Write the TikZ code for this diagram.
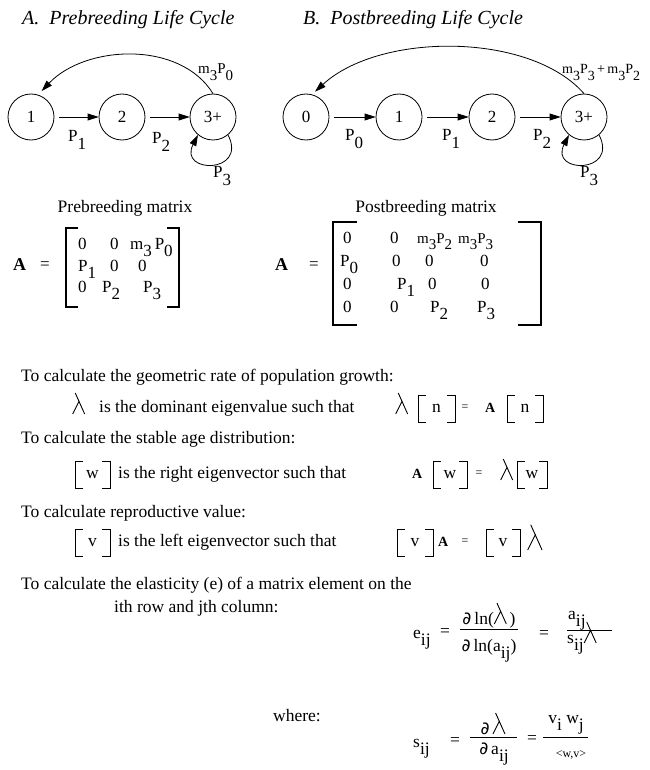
\documentclass[tikz,border=0pt]{standalone}
\usepackage{fontspec}
\setmainfont{Liberation Serif}
\newfontfamily\symf{DejaVu Sans}
\usetikzlibrary{arrows.meta}
\newcommand\lw[1]{\raisebox{-0.45em}{#1}}
\newcommand\mPx[2]{m\lw{#1}P\lw{#2}}
\newcommand\lam[1][1]{\tikz[baseline=0pt,x=#1pt,y=#1pt]{\draw[line width=0.9pt,line cap=butt] (0,0)--(6.6,13.2) (2.6,21)--(12,0);}}
\newcommand\pd{{\symf\char"2202}}
\newcommand\brk[4]{%
  \draw[sbr] ({#1+8},#3) -- (#1,#3) -- (#1,#4) -- ({#1+8},#4);
  \draw[sbr] ({#2-8},#3) -- (#2,#3) -- (#2,#4) -- ({#2-8},#4);}
\begin{document}
\begin{tikzpicture}[x=1pt,y=-1pt,
  txt/.style={font=\fontsize{17.5}{20}\selectfont, inner sep=0pt, anchor=base west},
  lab/.style={font=\fontsize{17}{20}\selectfont, inner sep=0pt, anchor=base west},
  mt/.style={font=\fontsize{17}{20}\selectfont, inner sep=0pt, anchor=base west},
  sm/.style={font=\fontsize{12}{14}\selectfont, inner sep=0pt, anchor=base},
  bA/.style={font=\fontsize{14}{16}\selectfont\bfseries, inner sep=0pt, anchor=base west},
  ttl/.style={font=\fontsize{20}{24}\selectfont\itshape, inner sep=0pt, anchor=base west},
  st/.style={circle, draw, line width=0.8pt, minimum size=46pt, inner sep=0pt, font=\fontsize{17}{20}\selectfont},
  arr/.style={line width=0.8pt, -{Triangle[length=11pt,width=7pt]}},
  mbr/.style={line width=2.2pt, line join=miter},
  sbr/.style={line width=1pt, line join=miter},
  bar/.style={line width=0.8pt}]
\useasboundingbox (0,0) rectangle (649,770);

% titles
\node[ttl] (tA) at (22,25) {A.\ \ Prebreeding Life Cycle};
\node[ttl] (tB) at (303,25) {B.\ \ Postbreeding Life Cycle};

% prebreeding cycle
\node[st] (a1) at (31,117) {1};
\node[st] (a2) at (122,117) {2};
\node[st] (a3) at (213,117) {3+};
\draw[arr] ([xshift=5pt]a1.east) -- (a2.west);
\draw[arr] ([xshift=5pt]a2.east) -- (a3.west);
\node[lab] (ap1) at (68,142) {P\lw{1}};
\node[lab] (ap2) at (152,144) {P\lw{2}};
\draw[arr] (a3.-50) .. controls (248,174) and (178,174) .. (a3.-130);
\node[lab] (ap3) at (213,178) {P\lw{3}};
\draw[arr, shorten >=5pt] (a3.north) .. controls (180,40) and (85,45) .. (a1.72);
\node[lab, font=\fontsize{15}{18}\selectfont] (am) at (198,74) {\mPx{3}{0}};

% postbreeding cycle
\node[st] (b0) at (306,117) {0};
\node[st] (b1) at (399,117) {1};
\node[st] (b2) at (492,117) {2};
\node[st] (b3) at (584,117) {3+};
\draw[arr] ([xshift=5pt]b0.east) -- (b1.west);
\draw[arr] ([xshift=5pt]b1.east) -- (b2.west);
\draw[arr] ([xshift=5pt]b2.east) -- (b3.west);
\node[lab] (bp0) at (345,141) {P\lw{0}};
\node[lab] (bp1) at (442,141) {P\lw{1}};
\node[lab] (bp2) at (533,141) {P\lw{2}};
\draw[arr] (b3.-50) .. controls (619,174) and (549,174) .. (b3.-130);
\node[lab] (bp3) at (580,178) {P\lw{3}};
\draw[arr, shorten >=4pt] (b3.north) .. controls (530,32) and (380,32) .. (b0.75);
\node[lab, font=\fontsize{14}{16}\selectfont] (bm) at (562,74) {\mPx{3}{3}\,+\,\mPx{3}{2}};

% prebreeding matrix
\node[txt, anchor=base] (pret) at (125,212) {Prebreeding matrix};
\node[bA, font=\fontsize{18}{20}\selectfont\bfseries] (lA) at (13,270) {A};
\node[mt, anchor=base] (leq) at (45,269) {=};
\draw[mbr] (78,228) -- (66,228) -- (66,307) -- (78,307);
\draw[mbr] (167,228) -- (179,228) -- (179,307) -- (167,307);
\node[mt] (l11) at (78,249) {0};
\node[mt] (l12) at (110,249) {0};
\node[mt] (l13) at (130,249) {m\lw{3}\,P\lw{0}};
\node[mt] (l21) at (78,271) {P\lw{1}};
\node[mt] (l22) at (110,271) {0};
\node[mt] (l23) at (138,271) {0};
\node[mt] (l31) at (78,292) {0};
\node[mt] (l32) at (102,292) {P\lw{2}};
\node[mt] (l33) at (143,292) {P\lw{3}};

% postbreeding matrix
\node[txt, anchor=base] (post) at (426,212) {Postbreeding matrix};
\node[bA, font=\fontsize{18}{20}\selectfont\bfseries] (rA) at (275,270) {A};
\node[mt, anchor=base] (req) at (314,269) {=};
\draw[mbr] (357,222) -- (333,222) -- (333,325) -- (357,325);
\draw[mbr] (518,222) -- (541,222) -- (541,325) -- (518,325);
\node[mt] (r11) at (343,243) {0};
\node[mt] (r12) at (390,243) {0};
\node[mt, font=\fontsize{15}{18}\selectfont] (r13) at (417,243) {\mPx{3}{2}};
\node[mt, font=\fontsize{15}{18}\selectfont] (r14) at (458,243) {\mPx{3}{3}};
\node[mt] (r21) at (340,266) {P\lw{0}};
\node[mt] (r22) at (392,266) {0};
\node[mt] (r23) at (425,266) {0};
\node[mt] (r24) at (480,266) {0};
\node[mt] (r31) at (343,289) {0};
\node[mt] (r32) at (397,289) {P\lw{1}};
\node[mt] (r33) at (428,289) {0};
\node[mt] (r34) at (481,289) {0};
\node[mt] (r41) at (343,312) {0};
\node[mt] (r42) at (390,312) {0};
\node[mt] (r43) at (430,312) {P\lw{2}};
\node[mt] (r44) at (477,312) {P\lw{3}};

% growth rate
\node[txt] (t1) at (21,381) {To calculate the geometric rate of population growth:};
\node[txt] (l2a) at (72,414) {\lam};
\node[txt] (t2) at (99,412) {is the dominant eigenvalue such that};
\node[txt] (l2b) at (395,414) {\lam};
\brk{418}{455}{395}{422}
\node[txt, anchor=base] (n1) at (436.5,412) {n};
\node[sm] (e2) at (465,410) {=};
\node[bA] (A2) at (485,412) {A};
\brk{507}{543}{395}{422}
\node[txt, anchor=base] (n2) at (525,412) {n};

% stable age distribution
\node[txt] (t3) at (21,443) {To calculate the stable age distribution:};
\brk{75}{110}{461}{488}
\node[txt, anchor=base] (w1) at (92.5,478) {w};
\node[txt] (t4) at (118,478) {is the right eigenvector such that};
\node[bA] (A4) at (412,478) {A};
\brk{433}{467}{461}{488}
\node[txt, anchor=base] (w2) at (450,478) {w};
\node[sm] (e4) at (479,476) {=};
\node[txt] (l4) at (500,480) {\lam};
\brk{517}{547}{461}{488}
\node[txt, anchor=base] (w3) at (532,478) {w};

% reproductive value
\node[txt] (t5) at (21,517) {To calculate reproductive value:};
\brk{75}{110}{529}{556}
\node[txt, anchor=base] (v1) at (92.5,546) {v};
\node[txt] (t6) at (118,546) {is the left eigenvector such that};
\brk{397}{433}{529}{556}
\node[txt, anchor=base] (v2) at (415,546) {v};
\node[bA] (A6) at (438,546) {A};
\node[sm] (e6) at (465,544) {=};
\brk{486}{520}{529}{556}
\node[txt, anchor=base] (v3) at (503,546) {v};
\node[txt] (l6) at (527,550) {\lam[1.2]};

% elasticity
\node[txt] (t7) at (21,589) {To calculate the elasticity (e) of a matrix element on the};
\node[txt] (t8) at (114,612) {ith row and jth column:};
\node[txt] (eij) at (413,638) {e\lw{ij}};
\node[txt, anchor=base] (ee1) at (445,636) {=};
\node[txt, anchor=base] (fn1) at (489,624) {\pd\,ln(\lam\,)};
\draw[bar] (460,629) -- (518,629);
\node[txt, anchor=base] (fd1) at (489,651) {\pd\,ln(a\lw{ij})};
\node[txt, anchor=base] (ee2) at (544,638) {=};
\node[txt] (fn2) at (568,619) {a\lw{ij}};
\draw[bar] (567,630) -- (612,630);
\node[txt] (fd2) at (567,643) {s\lw{ij}\lam};

% sensitivity
\node[txt] (t9) at (273,721) {where:};
\node[txt] (sij) at (413,747) {s\lw{ij}};
\node[txt, anchor=base] (se1) at (455,745) {=};
\node[txt, anchor=base] (sn1) at (493,734) {\pd\,\lam};
\draw[bar] (470,737) -- (517,737);
\node[txt, anchor=base] (sd1) at (494,754) {\pd\,a\lw{ij}};
\node[txt, anchor=base] (se2) at (532,743) {=};
\node[txt, anchor=base] (sn2) at (566,723) {v\lw{i} w\lw{j}};
\draw[bar] (543,737) -- (588,737);
\node[sm] (sd2) at (571,757) {<w,v>};
\end{tikzpicture}
\end{document}
